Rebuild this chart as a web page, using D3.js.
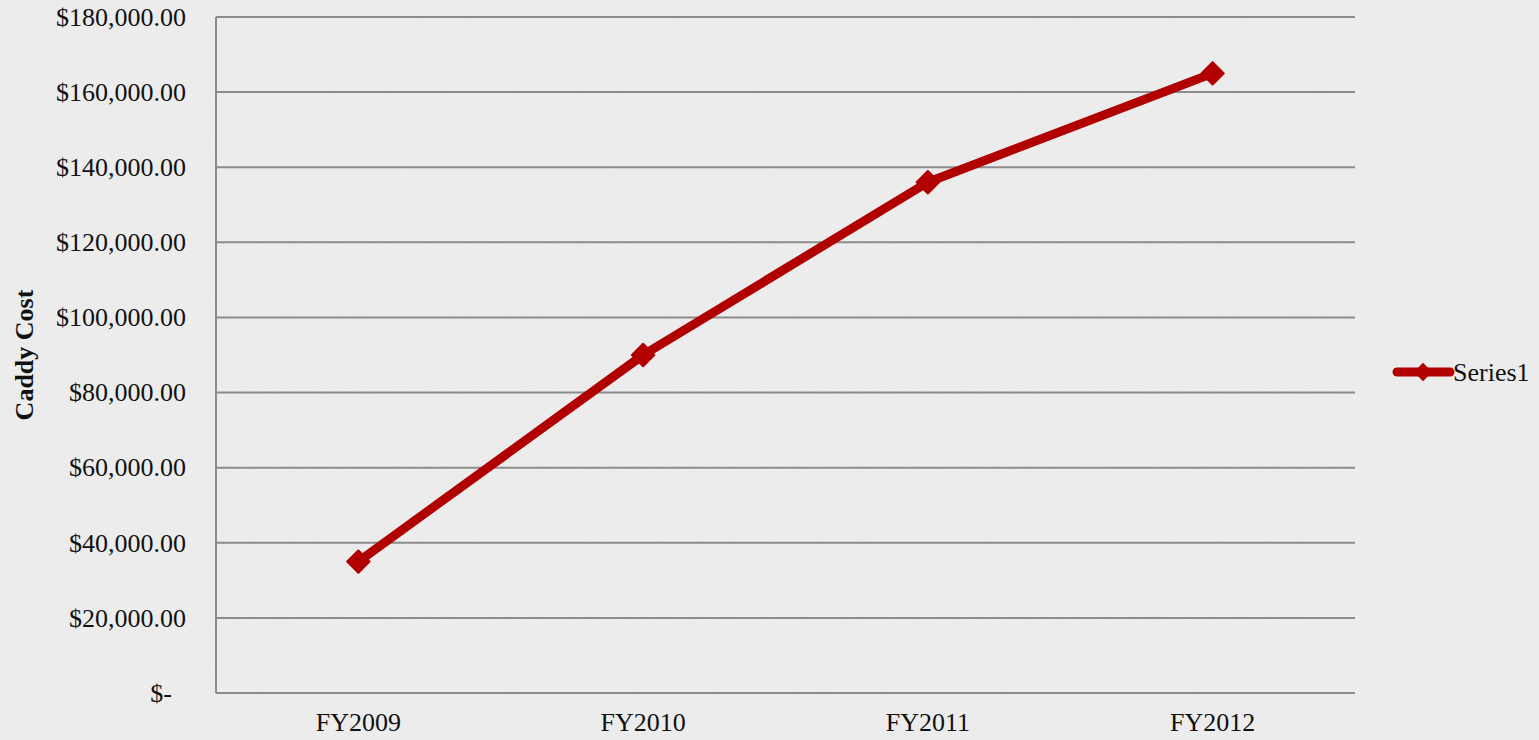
<!DOCTYPE html>
<html>
<head>
<meta charset="utf-8">
<script src="https://cdn.jsdelivr.net/npm/d3@7"></script>
<style>
  body { margin: 0; background: #ececec; }
  svg { display: block; }
  text { font-family: "Liberation Serif", "Times New Roman", serif; fill: #111; }
</style>
</head>
<body>
<div id="chart"></div>
<script>
const width = 1539;
const height = 740;

// donnees
const categories = ["FY2009", "FY2010", "FY2011", "FY2012"];
const valeurs = [35000, 90000, 136000, 165000];
const ticksY = [0, 20000, 40000, 60000, 80000, 100000, 120000, 140000, 160000, 180000];
const serieNom = "Series1";

const margin = {top: 17, right: 184, bottom: 47, left: 216};
const w = width - margin.left - margin.right;
const h = height - margin.top - margin.bottom;
const rouge = "#b00000";
const taille = "26px";

let svg = d3.select("#chart")
  .append("svg")
    .attr("width", width)
    .attr("height", height);

// fond legerement texture
const defs = svg.append("defs");
const filtre = defs.append("filter").attr("id", "grain");
filtre.append("feTurbulence")
  .attr("type", "fractalNoise")
  .attr("baseFrequency", 0.9)
  .attr("numOctaves", 2)
  .attr("result", "bruit");
filtre.append("feColorMatrix")
  .attr("type", "matrix")
  .attr("values", "0 0 0 0 1  0 0 0 0 1  0 0 0 0 1  0 0 0 0.35 0");
svg.append("rect").attr("width", width).attr("height", height).attr("fill", "#e8e8e8");
svg.append("rect").attr("width", width).attr("height", height).attr("filter", "url(#grain)");

const g = svg.append("g")
  .attr("transform", "translate(" + margin.left + "," + margin.top + ")");

const x = d3.scaleBand()
  .domain(categories)
  .range([0, w]);

const y = d3.scaleLinear()
  .domain([0, 180000])
  .range([h, 0]);

// grille horizontale
g.append("g")
  .selectAll("line")
  .data(ticksY)
  .enter()
  .append("line")
    .attr("x1", 0)
    .attr("x2", w)
    .attr("y1", d => y(d))
    .attr("y2", d => y(d))
    .attr("stroke", "#8c8c8c")
    .attr("stroke-width", 2);

// axe vertical
g.append("line")
  .attr("x1", 0).attr("x2", 0)
  .attr("y1", 0).attr("y2", h)
  .attr("stroke", "#8c8c8c")
  .attr("stroke-width", 2);

const fmt = d3.format("$,.2f");
const axeY = g.append("g")
  .call(d3.axisLeft(y).tickValues(ticksY).tickSize(0).tickPadding(30)
    .tickFormat(d => d === 0 ? "$-" : fmt(d)));
axeY.select(".domain").remove();
axeY.selectAll("text")
  .style("font-size", taille)
  .style("font-family", "Liberation Serif, serif")
  .attr("fill", "#111")
  .attr("dx", d => d === 0 ? -14 : 0);

const axeX = g.append("g")
  .attr("transform", "translate(0," + h + ")")
  .call(d3.axisBottom(x).tickSize(0).tickPadding(20));
axeX.select(".domain").remove();
axeX.selectAll("text")
  .style("font-size", taille)
  .style("font-family", "Liberation Serif, serif")
  .attr("fill", "#111");

// titre de l'axe Y
svg.append("text")
  .attr("transform", "translate(33," + (margin.top + h / 2) + ") rotate(-90)")
  .attr("text-anchor", "middle")
  .style("font-size", taille)
  .style("font-weight", "bold")
  .text("Caddy Cost");

// ligne de la serie
const ligne = d3.line()
  .x((d, i) => x(categories[i]) + x.bandwidth() / 2)
  .y(d => y(d));

g.append("path")
  .datum(valeurs)
  .attr("d", ligne)
  .attr("fill", "none")
  .attr("stroke", rouge)
  .attr("stroke-width", 9)
  .attr("stroke-linejoin", "round");

const diamant = d3.symbol().type(d3.symbolDiamond2).size(320);
g.selectAll(".point")
  .data(valeurs)
  .enter()
  .append("path")
    .attr("class", "point")
    .attr("d", diamant)
    .attr("transform", (d, i) => "translate(" + (x(categories[i]) + x.bandwidth() / 2) + "," + y(d) + ")")
    .attr("fill", rouge)
    .attr("stroke", rouge)
    .attr("stroke-width", 2)
    .attr("stroke-linejoin", "round");

// legende
const leg = svg.append("g").attr("transform", "translate(1397,372)");
leg.append("line")
  .attr("x1", 0).attr("x2", 53)
  .attr("stroke", rouge)
  .attr("stroke-width", 9)
  .attr("stroke-linecap", "round");
leg.append("path")
  .attr("d", d3.symbol().type(d3.symbolDiamond2).size(220))
  .attr("transform", "translate(26,0)")
  .attr("fill", rouge);
leg.append("text")
  .attr("x", 56)
  .attr("y", 9)
  .style("font-size", taille)
  .text(serieNom);
</script>
</body>
</html>
